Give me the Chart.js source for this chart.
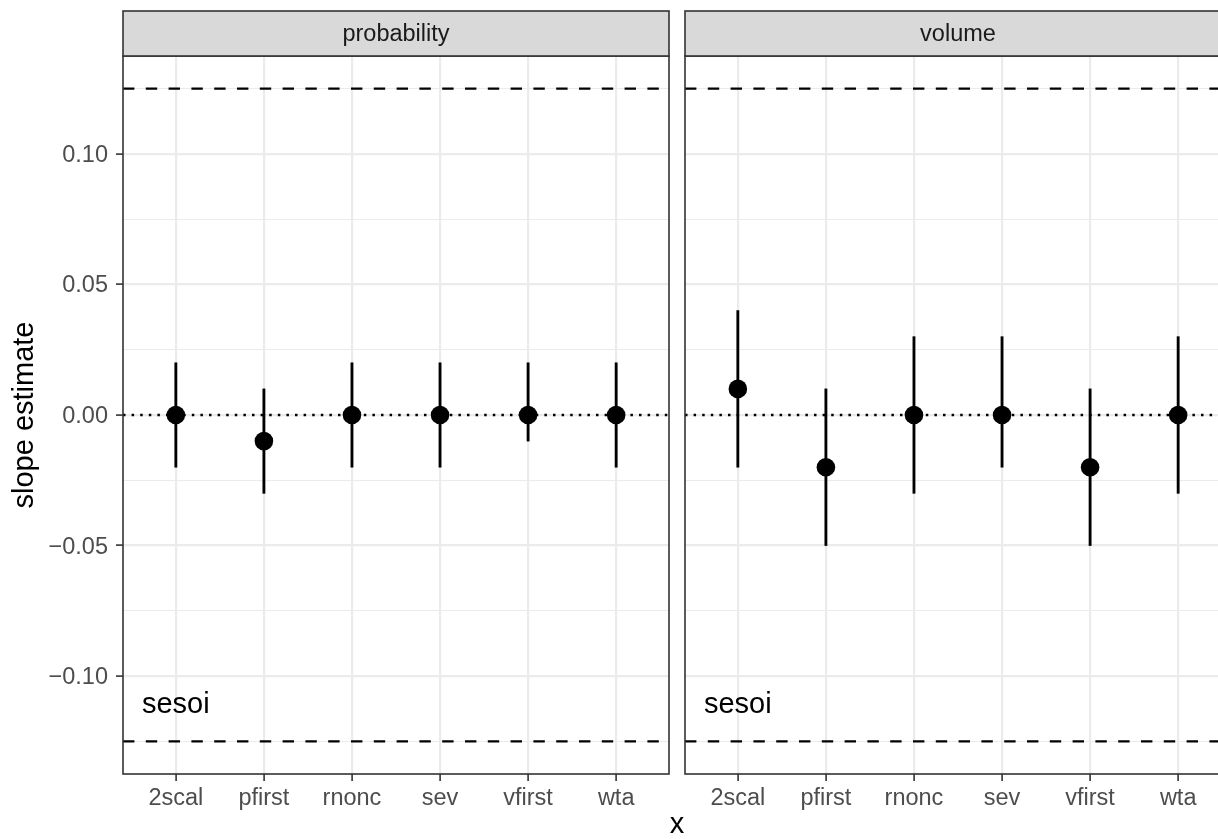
<!DOCTYPE html>
<html>
<head>
<meta charset="utf-8">
<script src="https://cdn.jsdelivr.net/npm/chart.js@4/dist/chart.umd.min.js"></script>
<style>
  html, body { margin: 0; padding: 0; background: #ffffff; }
  #wrap { position: relative; width: 1218px; height: 839px; overflow: hidden; background: #fff; }
  #c1 { position: absolute; left: 0; top: 0; }
  #c2 { position: absolute; left: 684px; top: 0; }
  #xtitle { position: absolute; left: 0; width: 1354px; top: 806px; text-align: center;
            font-family: "Liberation Sans", Arial, sans-serif; font-size: 29px; color: #000; line-height: 34px; }
</style>
</head>
<body>
<div id="wrap">
  <canvas id="c1" width="670" height="839" style="width:670px;height:839px"></canvas>
  <canvas id="c2" width="560" height="839" style="width:560px;height:839px"></canvas>
  <div id="xtitle">x</div>
</div>
<script>
// ---------------- data ----------------
const categories = ['2scal', 'pfirst', 'rnonc', 'sev', 'vfirst', 'wta'];
const panelNames = ['probability', 'volume'];

const probEstimate = [0.00, -0.01, 0.00, 0.00, 0.00, 0.00];
const probLower    = [-0.02, -0.03, -0.02, -0.02, -0.01, -0.02];
const probUpper    = [0.02, 0.01, 0.02, 0.02, 0.02, 0.02];

const volEstimate  = [0.01, -0.02, 0.00, 0.00, -0.02, 0.00];
const volLower     = [-0.02, -0.05, -0.03, -0.02, -0.05, -0.03];
const volUpper     = [0.04, 0.01, 0.03, 0.03, 0.01, 0.03];

const sesoiBounds  = [-0.125, 0.125];
const zeroLine     = [0];
const sesoiLabel   = 'sesoi';
const sesoiLabelX  = [1];
const sesoiLabelY  = [-0.11];

const yMajorTicks  = [-0.10, -0.05, 0.00, 0.05, 0.10];
const yMinorTicks  = [-0.125, -0.075, -0.025, 0.025, 0.075, 0.125];
const yTickLabels  = ['\u22120.10', '\u22120.05', '0.00', '0.05', '0.10'];

// --------------- helpers ---------------
const FONT = '"Liberation Sans", Arial, Helvetica, sans-serif';
const xMin = 1 - 0.6, xMax = categories.length + 0.6;
const yMin = -0.1375, yMax = 0.1375;
const allYTicks = yMajorTicks.concat(yMinorTicks).sort((a, b) => a - b);
const isMajor = v => yMajorTicks.some(m => Math.abs(m - v) < 1e-9);

const panelPlugin = {
  id: 'panelDeco',
  afterDraw(chart, args, opts) {
    const { ctx, chartArea: a, scales } = chart;
    // sesoi annotation
    ctx.save();
    ctx.font = '29px ' + FONT;
    ctx.fillStyle = '#000000';
    ctx.textAlign = 'center';
    ctx.textBaseline = 'middle';
    ctx.fillText(sesoiLabel, scales.x.getPixelForValue(sesoiLabelX[0]), scales.y.getPixelForValue(sesoiLabelY[0]) + 3);
    ctx.restore();
    // panel border
    ctx.save();
    ctx.strokeStyle = '#333333';
    ctx.lineWidth = 1.6;
    ctx.strokeRect(a.left, a.top, a.right - a.left, a.bottom - a.top);
    // strip
    const sTop = 11, sBot = a.top;
    ctx.fillStyle = '#D9D9D9';
    ctx.fillRect(a.left, sTop, a.right - a.left, sBot - sTop);
    ctx.strokeRect(a.left, sTop, a.right - a.left, sBot - sTop);
    ctx.fillStyle = '#1A1A1A';
    ctx.font = '23.5px ' + FONT;
    ctx.textAlign = 'center';
    ctx.textBaseline = 'middle';
    ctx.fillText(opts.title, (a.left + a.right) / 2, (sTop + sBot) / 2 + 1.5);
    ctx.restore();
  }
};

function makePanel(id, panelIdx, est, lo, hi, showY, padRight) {
  const points = est.map((v, i) => ({ x: i + 1, y: v }));
  const bars = lo.map((v, i) => ({ x: i + 1, y: [v, hi[i]] }));
  const hline = (v) => [{ x: xMin, y: v }, { x: xMax, y: v }];
  const datasets = [
    { type: 'scatter', data: points, order: 0, pointRadius: 9.3, pointHoverRadius: 9.3,
      backgroundColor: '#000000', borderWidth: 0, pointBorderWidth: 0 },
    { type: 'bar', data: bars, order: 1, barThickness: 2.2, backgroundColor: '#000000',
      borderWidth: 0, grouped: false },
    { type: 'line', data: hline(zeroLine[0]), order: 2, borderColor: '#000000', borderWidth: 2.5,
      borderDash: [2.5, 6.1], pointRadius: 0, fill: false, borderCapStyle: 'butt' },
    { type: 'line', data: hline(sesoiBounds[0]), order: 3, borderColor: '#000000', borderWidth: 2.4,
      borderDash: [11.4, 11.4], pointRadius: 0, fill: false, borderCapStyle: 'butt' },
    { type: 'line', data: hline(sesoiBounds[1]), order: 4, borderColor: '#000000', borderWidth: 2.4,
      borderDash: [11.4, 11.4], pointRadius: 0, fill: false, borderCapStyle: 'butt' }
  ];
  return new Chart(document.getElementById(id), {
    type: 'scatter',
    data: { datasets },
    plugins: [panelPlugin],
    options: {
      responsive: false,
      animation: false,
      events: [],
      layout: { autoPadding: false, padding: { top: 56, right: padRight, left: 0, bottom: 0 } },
      plugins: {
        legend: { display: false },
        tooltip: { enabled: false },
        title: { display: false },
        panelDeco: { title: panelNames[panelIdx] }
      },
      scales: {
        x: {
          type: 'linear', min: xMin, max: xMax, offset: false,
          afterBuildTicks: s => { s.ticks = categories.map((c, i) => ({ value: i + 1 })); },
          afterFit: s => { s.height = 65; s.paddingLeft = 0; s.paddingRight = 0; },
          border: { display: false },
          grid: { offset: false, color: '#EBEBEB', lineWidth: 2.2, drawTicks: true, tickLength: 7,
                  tickColor: '#333333', tickWidth: 1.6 },
          ticks: {
            autoSkip: false, maxRotation: 0, minRotation: 0, padding: 3,
            color: '#4D4D4D', font: { family: FONT, size: 23.5 },
            callback: v => categories[Math.round(v) - 1]
          }
        },
        y: {
          type: 'linear', min: yMin, max: yMax, offset: false,
          afterBuildTicks: s => { s.ticks = allYTicks.map(v => ({ value: v })); },
          afterFit: s => { s.width = showY ? 123 : 1; s.paddingTop = 0; s.paddingBottom = 0; },
          border: { display: false },
          title: showY ? { display: true, text: 'slope estimate', color: '#000000',
                   font: { family: FONT, size: 29 }, padding: { top: 8, bottom: 0 } } : { display: false },
          grid: {
            offset: false,
            color: '#EBEBEB',
            lineWidth: c => (c.tick && isMajor(c.tick.value)) ? 2.2 : 1.1,
            drawTicks: showY, tickLength: showY ? 7 : 0,
            tickColor: c => (c.tick && isMajor(c.tick.value)) ? '#333333' : 'rgba(0,0,0,0)',
            tickWidth: 1.6
          },
          ticks: {
            display: showY, padding: 8, labelOffset: 1.5, color: '#4D4D4D', font: { family: FONT, size: 23.5 },
            callback: v => {
              const k = yMajorTicks.findIndex(m => Math.abs(m - v) < 1e-9);
              return k >= 0 ? yTickLabels[k] : '';
            }
          }
        }
      }
    }
  });
}

makePanel('c1', 0, probEstimate, probLower, probUpper, true, 1);
makePanel('c2', 1, volEstimate, volLower, volUpper, false, 13);
</script>
</body>
</html>
